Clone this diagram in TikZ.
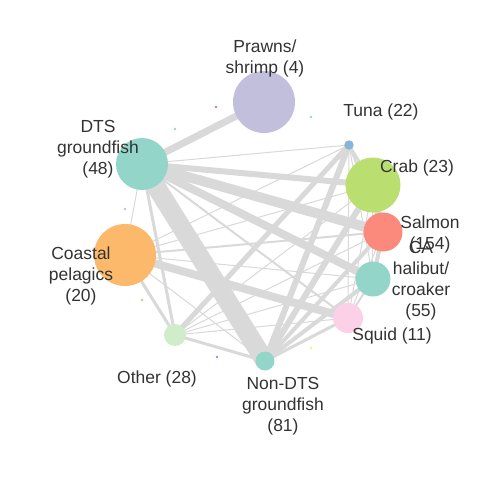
\documentclass[tikz,border=0pt]{standalone}
\usepackage{fontspec}
\setmainfont{Liberation Sans}
\definecolor{edgec}{HTML}{D9D9D9}
\definecolor{txt}{HTML}{333333}
\definecolor{cprawn}{HTML}{C2BFDC}
\definecolor{ctuna}{HTML}{88B4D6}
\definecolor{ccrab}{HTML}{BADF70}
\definecolor{csalmon}{HTML}{FB8A7C}
\definecolor{cteal}{HTML}{94D5CA}
\definecolor{csquid}{HTML}{FCD0E6}
\definecolor{cother}{HTML}{D0EDCA}
\definecolor{ccoast}{HTML}{FDB96B}
\definecolor{cpurple}{HTML}{BC80BD}
\definecolor{cyellow}{HTML}{FFED6F}
\pgfdeclarelayer{background}
\pgfsetlayers{background,main}
\begin{document}
\begin{tikzpicture}[x=0.75pt,y=-0.75pt,
  vert/.style={circle, inner sep=0pt, draw=none, minimum size=#1*1.5pt},
  dot/.style={circle, inner sep=0pt, draw=none, minimum size=2.2pt},
  edge/.style={draw=edgec, line width={#1*0.75pt}},
  lbl/.style={text=txt, align=center, inner sep=0pt, font=\fontsize{13.1}{15.75}\selectfont}]
\useasboundingbox (0,0) rectangle (480,480);
% vertices
\node[vert=31, fill=cprawn] (P) at (264,102) {};
\node[vert=4.7, fill=ctuna] (T) at (349,145) {};
\node[vert=27.5, fill=ccrab] (C) at (373,185) {};
\node[vert=19.5, fill=csalmon] (S) at (383,232) {};
\node[vert=17.5, fill=cteal] (H) at (373,279) {};
\node[vert=15, fill=csquid] (Q) at (348,318) {};
\node[vert=9.5, fill=cteal] (N) at (265,361) {};
\node[vert=11, fill=cother] (O) at (175,335) {};
\node[vert=31, fill=ccoast] (K) at (125,255) {};
\node[vert=26, fill=cteal] (D) at (142,164) {};
% isolated tiny vertices
\node[dot, fill=cpurple] (i1) at (216,107) {};
\node[dot, fill=cteal] (i2) at (311,117) {};
\node[dot, fill=cteal] (i3) at (175,129) {};
\node[dot, fill=cprawn] (i4) at (125,209) {};
\node[dot, fill=ccoast] (i5) at (142,300) {};
\node[dot, fill=cpurple] (i6) at (217,357) {};
\node[dot, fill=cyellow] (i7) at (311,348) {};
% labels
\node[lbl] (lP) at (265,58) {Prawns/\\shrimp (4)};
\node[lbl] (lT) at (381,112) {Tuna (22)};
\node[lbl] (lC) at (417,168) {Crab (23)};
\node[lbl] (lS) at (430,234) {Salmon\\(154)};
\node[lbl] (lH) at (421,281) {CA\\halibut/\\croaker\\(55)};
\node[lbl] (lQ) at (392,336) {Squid (11)};
\node[lbl] (lN) at (283,406) {Non-DTS\\groundfish\\(81)};
\node[lbl] (lO) at (157,379) {Other (28)};
\node[lbl] (lK) at (81,276) {Coastal\\pelagics\\(20)};
\node[lbl] (lD) at (98,149) {DTS\\groundfish\\(48)};
% edges
\begin{pgfonlayer}{background}
\fill[white] (0,0) rectangle (480,480);
\draw[edge=7] (D.center) -- (P.center);
\draw[edge=19] (D.center) -- (N.center);
\draw[edge=6] (D.center) -- (C.center);
\draw[edge=10] (D.center) -- (S.center);
\draw[edge=8] (D.center) -- (H.center);
\draw[edge=2] (D.center) -- (Q.center);
\draw[edge=1] (D.center) -- (T.center);
\draw[edge=3] (D.center) -- (O.center);
\draw[edge=1] (D.center) -- (K.center);
\draw[edge=8] (K.center) -- (Q.center);
\draw[edge=2] (K.center) -- (S.center);
\draw[edge=1] (K.center) -- (H.center);
\draw[edge=1] (K.center) -- (C.center);
\draw[edge=1] (K.center) -- (T.center);
\draw[edge=3] (K.center) -- (O.center);
\draw[edge=1] (K.center) -- (N.center);
\draw[edge=6] (T.center) -- (N.center);
\draw[edge=5] (T.center) -- (O.center);
\draw[edge=3] (T.center) -- (C.center);
\draw[edge=2] (T.center) -- (S.center);
\draw[edge=1] (T.center) -- (H.center);
\draw[edge=1] (T.center) -- (Q.center);
\draw[edge=6] (C.center) -- (N.center);
\draw[edge=5] (C.center) -- (S.center);
\draw[edge=1] (C.center) -- (O.center);
\draw[edge=1] (C.center) -- (Q.center);
\draw[edge=1] (C.center) -- (H.center);
\draw[edge=4] (S.center) -- (N.center);
\draw[edge=4] (S.center) -- (H.center);
\draw[edge=1] (S.center) -- (O.center);
\draw[edge=1] (S.center) -- (Q.center);
\draw[edge=4] (H.center) -- (N.center);
\draw[edge=1] (H.center) -- (O.center);
\draw[edge=2] (H.center) -- (Q.center);
\draw[edge=3] (Q.center) -- (N.center);
\draw[edge=1] (Q.center) -- (O.center);
\draw[edge=3] (O.center) -- (N.center);
\end{pgfonlayer}
\end{tikzpicture}
\end{document}
